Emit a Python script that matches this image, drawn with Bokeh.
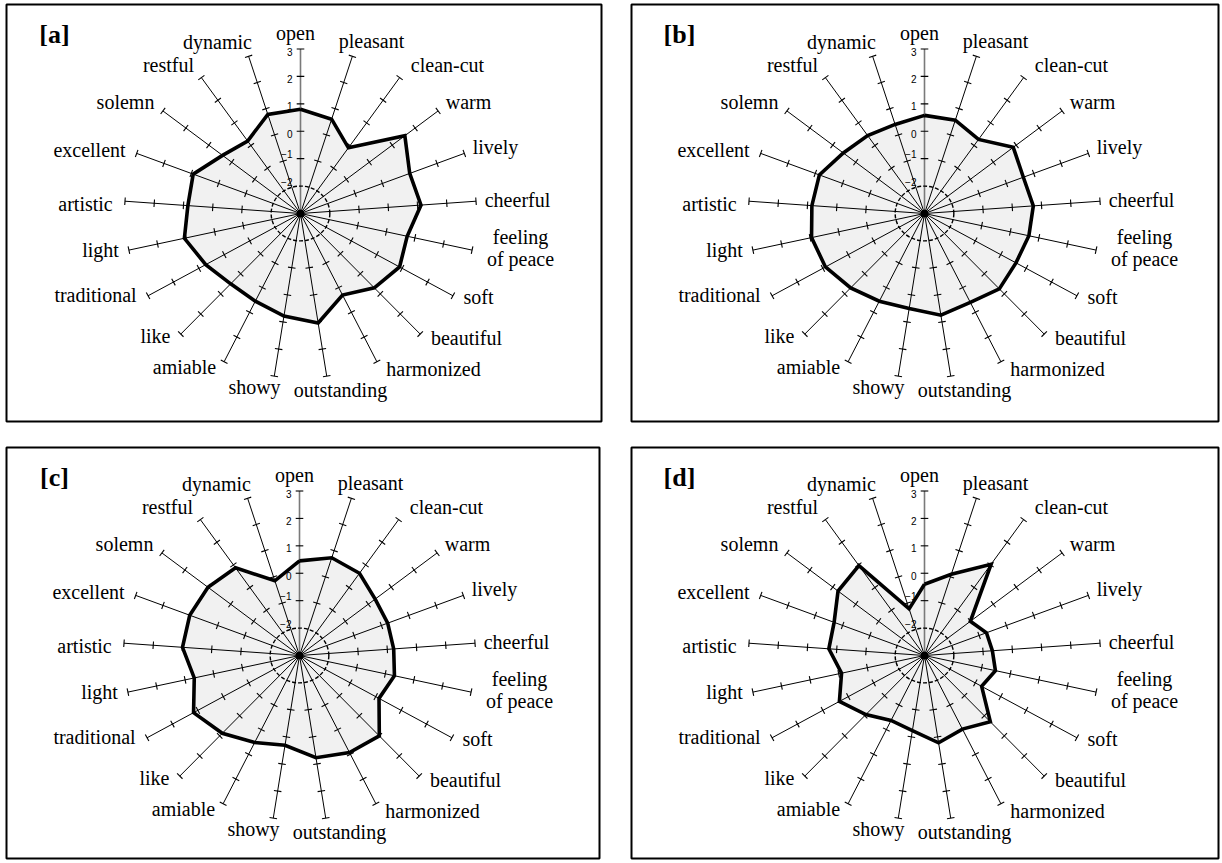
import numpy as np
from bokeh.plotting import figure
from bokeh.models import Range1d
from bokeh.embed import file_html
from bokeh.resources import INLINE
from bokeh.core.properties import value

# ---------------- data ----------------
categories = ["open", "pleasant", "clean-cut", "warm", "lively", "cheerful",
              "feeling of peace", "soft", "beautiful", "harmonized", "outstanding",
              "showy", "amiable", "like", "traditional", "light", "artistic",
              "excellent", "solemn", "restful", "dynamic"]
scale_ticks = [3, 2, 1, 0, -1, -2]
scale_min, scale_max = -3, 3
panel_names = ["[a]", "[b]", "[c]", "[d]"]

values_a = [0.8, 0.6, -0.1, 1.55, 1.0, 1.12, 0.73, 0.9, 0.7, 0.3, 1.04,
            0.78, 0.55, 0.5, 0.73, 1.06, 0.85, 0.93, 0.4, 0.2, 0.78]
values_b = [0.58, 0.56, 0.27, 0.87, 0.62, 0.72, 0.65, 0.6, 0.75, 0.6, 0.75,
            0.5, 0.55, 0.7, 0.9, 0.95, 0.85, 0.85, 0.54, 0.44, 0.4]
values_c = [0.45, 0.73, 0.63, 0.3, 0.23, 0.22, 0.32, 0.13, 1.0, 0.93, 0.77,
            0.31, 0.52, 0.87, 1.17, 0.68, 1.0, 1.02, 0.99, 0.87, -0.15]
values_d = [-0.4, 0.1, 1.03, -1.0, -0.73, -0.68, -0.52, -0.75, 0.3, -0.02, 0.22,
            -0.23, -0.37, -0.06, 0.35, -0.1, 0.27, 0.31, 0.77, 0.97, -1.22]
all_values = [values_a, values_b, values_c, values_d]

# ---------------- layout (page pixels) ----------------
W, H = 1220, 861
boxes = [(6, 4, 601, 421), (631, 4, 1218, 421), (6, 447, 599, 858), (631, 447, 1218, 858)]
centers = [(300, 213), (924, 213), (299, 655), (924, 655)]
RX, RY = 176.0, 164.5
label_off = [(-5, -181), (71, -173), (147, -149), (168, -112), (195, -67), (217, -14),
             (220, 34), (178, 83), (166, 124), (133, 155), (40, 176), (-46, 173),
             (-116, 153), (-145, 122), (-205, 81), (-200, 36), (-215, -10), (-211, -64),
             (-175, -112), (-132, -149), (-83, -172)]
letter_off = (48, 30)

p = figure(width=W, height=H, x_range=Range1d(0, W), y_range=Range1d(H, 0),
           output_backend="svg", toolbar_location=None,
           x_axis_location=None, y_axis_location=None, min_border=0)
p.grid.visible = False
p.outline_line_color = None
p.background_fill_color = "white"

n = len(categories)
theta = np.arange(n) * 2 * np.pi / n
span = scale_max - scale_min


def pos(cx, cy, v, th):
    f = (np.asarray(v, dtype=float) - scale_min) / span
    return cx + RX * f * np.sin(th), cy - RY * f * np.cos(th)


serif = value("Liberation Serif")
sans = value("Liberation Sans")

for k in range(4):
    x0, y0, x1, y1 = boxes[k]
    cx, cy = centers[k]
    vals = all_values[k]

    # panel border
    p.quad(left=[x0], right=[x1], top=[y0], bottom=[y1], fill_color=None,
           line_color="black", line_width=2)

    # filled polygon
    px, py = pos(cx, cy, vals, theta)
    p.patch(list(px) + [px[0]], list(py) + [py[0]], fill_color="#f1f1f1",
            line_color=None)

    # spokes
    ex, ey = pos(cx, cy, [scale_max] * n, theta)
    p.segment(x0=[cx] * (n - 1), y0=[cy] * (n - 1), x1=ex[1:], y1=ey[1:],
              line_color="black", line_width=1)
    p.segment(x0=[cx], y0=[cy], x1=[ex[0]], y1=[ey[0]], line_color="#7a7a7a",
              line_width=1.6)

    # tick marks on spokes
    tx0, ty0, tx1, ty1 = [], [], [], []
    for i in range(n):
        ux, uy = RX * np.sin(theta[i]), -RY * np.cos(theta[i])
        L = np.hypot(ux, uy)
        nx, ny = -uy / L, ux / L
        for t in [-1, 0, 1, 2, 3]:
            bx, by = pos(cx, cy, t, theta[i])
            h = 3.8
            tx0.append(bx - h * nx); ty0.append(by - h * ny)
            tx1.append(bx + h * nx); ty1.append(by + h * ny)
    p.segment(x0=tx0, y0=ty0, x1=tx1, y1=ty1, line_color="black", line_width=1.1)

    # dashed ring at -2
    p.ellipse(x=[cx], y=[cy], width=[2 * RX / span], height=[2 * RY / span],
              fill_color=None, line_color="black", line_width=1.4, line_dash="4 2")

    # outline
    p.line(list(px) + [px[0]], list(py) + [py[0]], line_color="black",
           line_width=3.6, line_join="miter")

    # center dot
    p.scatter(x=[cx], y=[cy], size=7, color="black")

    # scale labels on the "open" axis
    sy = [pos(cx, cy, t, 0.0)[1] + (2.5 if t >= 0 else -4.5) for t in scale_ticks]
    p.text(x=[cx - 8] * len(scale_ticks), y=sy,
           text=[str(t).replace("-", "\u2212") for t in scale_ticks],
           text_font=sans, text_font_size="10px", text_align="right",
           text_baseline="middle", text_color="black")

    # category labels
    lx = [cx + o[0] for o in label_off]
    ly = [cy + o[1] for o in label_off]
    disp = [c.replace("feeling of peace", "feeling\nof peace") for c in categories]
    p.text(x=lx, y=ly, text=disp, text_font=serif, text_font_size="20px",
           text_align="center", text_baseline="middle", text_line_height=1.0,
           text_color="black")

    # panel letter
    p.text(x=[x0 + letter_off[0]], y=[y0 + letter_off[1]], text=[panel_names[k]],
           text_font=serif, text_font_size="26px", text_font_style="bold",
           text_align="center", text_baseline="middle", text_color="black")

open("out.html", "w").write(file_html(p, INLINE))
